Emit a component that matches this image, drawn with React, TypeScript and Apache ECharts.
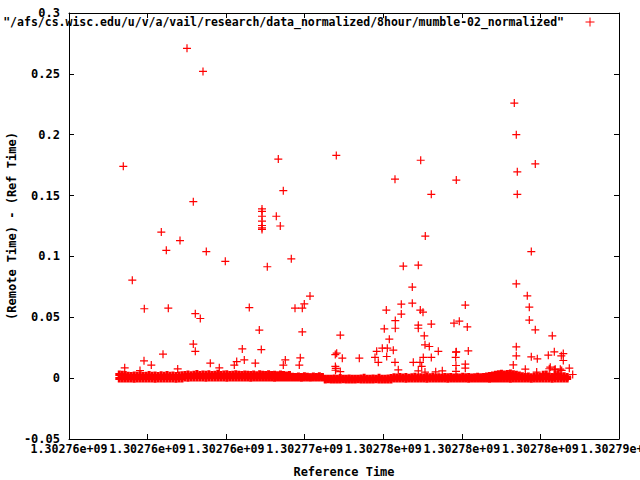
import React, { useEffect, useRef } from "react";
import * as echarts from "echarts";

const SERIES_NAME =
  '"/afs/cs.wisc.edu/u/v/a/vail/research/data_normalized/8hour/mumble-02_normalized"';
const X_NAME = "Reference Time";
const Y_NAME = "(Remote Time) - (Ref Time)";

const X_MIN = 1302755000;
const X_MAX = 1302790000;
const X_STEP = 5000;
const Y_MIN = -0.05;
const Y_MAX = 0.3;
const Y_STEP = 0.05;

// Isolated samples (reference time in s, offset in s)
const OUT_T = [
  1302758455, 1302762509, 1302763527, 1302762910, 1302768319, 1302768637, 1302772010,
  1302767282, 1302767282, 1302767282, 1302767282, 1302767282, 1302767282, 1302767282,
  1302768192, 1302768446, 1302760874, 1302762064, 1302761192, 1302763737, 1302764946,
  1302767619, 1302769146, 1302759028, 1302770336, 1302769973, 1302769382, 1302769846,
  1302759792, 1302761319, 1302763037, 1302763355, 1302766473, 1302767110, 1302769846,
  1302772264, 1302762910, 1302763037, 1302760982, 1302766028, 1302767237, 1302759773,
  1302760237, 1302758545, 1302761917, 1302763992, 1302764564, 1302765672, 1302766155,
  1302765519, 1302766855, 1302768765, 1302768637, 1302769719, 1302769655, 1302771946,
  1302772035, 1302771950, 1302771980, 1302771960, 1302772264, 1302772392, 1302773474,
  1302759518,
  1302777381, 1302775745, 1302779646, 1302778055, 1302777673, 1302776273, 1302777228,
  1302776846, 1302776146, 1302776846, 1302780219, 1302775192, 1302777355, 1302777527,
  1302776146, 1302775764, 1302778055, 1302779500, 1302779837, 1302780346, 1302775064,
  1302775764, 1302777228, 1302777228, 1302777610, 1302775383, 1302777654, 1302777928,
  1302774581, 1302774937, 1302775255, 1302775637, 1302778501, 1302779646, 1302780410,
  1302774473, 1302775217, 1302777546, 1302778055, 1302779608, 1302774683, 1302775745,
  1302776910, 1302777336, 1302777444, 1302775955, 1302777228, 1302777654, 1302778335,
  1302778755, 1302779627, 1302779627, 1302779627, 1302780219, 1302780219,
  1302783337, 1302783464, 1302784673, 1302783528, 1302783528, 1302784419, 1302783464,
  1302784164, 1302784292, 1302784292, 1302784673, 1302785755, 1302783464, 1302783464,
  1302784419, 1302784801, 1302785883, 1302785501, 1302786328, 1302786455, 1302786455,
  1302783273, 1302784037, 1302785628, 1302785946, 1302786264, 1302786837, 1302785564,
  1302785883, 1302786353, 1302784762, 1302787053,
];
const OUT_V = [
  0.174, 0.271, 0.252, 0.145, 0.18, 0.154, 0.183,
  0.139, 0.137, 0.133, 0.129, 0.1254, 0.1235, 0.1222,
  0.133, 0.125, 0.12, 0.113, 0.105, 0.104, 0.096,
  0.0915, 0.098, 0.0805, 0.0674, 0.061, 0.0575, 0.0575,
  0.057, 0.0575, 0.053, 0.049, 0.058, 0.0395, 0.038,
  0.0353, 0.028, 0.022, 0.0197, 0.024, 0.0235, 0.0142,
  0.0107, 0.0085, 0.0076, 0.0123, 0.0085, 0.0136, 0.015,
  0.0107, 0.0123, 0.015, 0.0107, 0.0167, 0.0107, 0.0194,
  0.0205, 0.0096, 0.008, 0.0065, 0.0054, 0.0164, 0.0164,
  0.0062,
  0.179, 0.1635, 0.1627, 0.151, 0.1167, 0.092, 0.0928,
  0.0748, 0.0608, 0.0616, 0.06, 0.0559, 0.0559, 0.0542,
  0.0526, 0.0473, 0.0444, 0.0452, 0.0468, 0.0421, 0.0405,
  0.041, 0.0435, 0.041, 0.0348, 0.032, 0.0274, 0.026,
  0.022, 0.0246, 0.0246, 0.023, 0.022, 0.0216, 0.0224,
  0.017, 0.0178, 0.017, 0.017, 0.017, 0.013, 0.013,
  0.013, 0.013, 0.0096, 0.0068, 0.006, 0.005, 0.0052,
  0.006, 0.0214, 0.0104, 0.0055, 0.0115, 0.0082,
  0.226, 0.2, 0.176, 0.1695, 0.151, 0.104, 0.0775,
  0.0676, 0.0583, 0.0477, 0.0397, 0.0348, 0.0257, 0.0183,
  0.0175, 0.0159, 0.0216, 0.0189, 0.0183, 0.0202, 0.0145,
  0.0109, 0.0074, 0.009, 0.0074, 0.0074, 0.0082, 0.0077,
  0.0068, 0.0063, 0.005, 0.003,
];

// Dense band of regular samples: first sample time, sampling period (s)
const BAND_START = 1302758200;
const BAND_STEP = 190;
// upper and lower envelope of the dense band, in thousandths of a second
const BAND_HIGH_MS = [
  3.0, 2.8, 2.6,
  2.0, 1.8, 2.2, 1.9, 2.4, 1.7, 2.0, 2.6, 1.9, 2.1, 1.8, 2.3, 2.0, 2.5, 1.9, 2.2, 1.8, 2.1, 2.4,
  2.6, 3.0, 2.4, 2.8, 3.4, 2.5, 2.9, 2.7, 3.2, 2.6, 2.8, 3.6, 2.5, 2.9, 3.1, 2.6, 2.8, 3.3, 2.7, 2.5, 3.0, 2.8,
  2.6, 2.9, 2.4, 3.1, 2.7, 2.5, 3.2, 2.6, 2.8, 2.4, 3.0, 2.6, 2.2, 2.5,
  1.2, 1.0, 1.4, 0.9, 1.6, 1.1, 0.8, 1.3, 1.0, 1.5, 0.9,
  -0.5, -0.4, -0.6, -0.3, -0.5, 0.2, -0.4, -0.5, -0.2, -0.6, -0.4, -0.5, -0.3, 0.4, -0.5, -0.4, -0.2, -0.5, 0.3, -0.4, -0.6, -0.3, 0.2,
  0.8, 0.5, 1.0, 0.6, 0.9, 0.4, 0.7, 1.1, 0.6, 0.8, 0.5, 0.9, 0.7, 1.2, 0.6, 0.8, 0.4, 0.9, 0.7, 1.0, 0.5, 0.8, 0.6, 1.1, 0.7, 0.9, 0.5, 0.8, 1.2, 0.7, 0.9, 1.4, 1.8, 2.2,
  2.8, 3.2, 3.6, 3.0, 3.4, 3.8, 3.1, 2.7, 2.2, 1.6,
  1.0, 1.3, 0.8, 1.1, 1.6, 1.2, 2.8, 3.0, 1.4, 1.0, 2.6, 3.2, 1.2, 1.5, 0.9,
];
const BAND_LOW_MS = [
  -0.3, -0.3, -0.2, -0.3, -0.3, -0.4, -0.3, -0.3, -0.2, -0.3, -0.3, -0.3, -0.4, -0.3, -0.3, -0.2, -0.3, -0.3, -0.3, -0.4, -0.3, -0.3,
  0.5, 0.4, 0.5, 0.5, 0.6, 0.5, 0.5, 0.4, 0.5, 0.5,
  0.5, 0.6, 0.5, 0.5, 0.4, 0.5, 0.5, 0.5, 0.5, 0.6,
  0.5, 0.5, 0.4, 0.5, 0.5, 0.5, 0.5, 0.6, 0.5, 0.5,
  0.4, 0.5, 0.5, 0.5, 0.5, 0.5, 0.6, 0.5, 0.5, 0.4,
  0.5, 0.5, 0.5, 0.5, 0.6, 0.5, 0.5,
  -1.1, -1.0, -1.1, -1.2, -1.1, -1.1, -1.0, -1.1, -1.1, -1.2,
  -1.1, -1.0, -1.1, -1.1, -1.1, -1.2, -1.1, -1.0, -1.1, -1.1,
  -1.1, -1.2, -1.1,
  -0.3, -0.3, -0.2, -0.3, -0.4, -0.3, -0.3, -0.2, -0.3, -0.3,
  -0.3, -0.4, -0.3, -0.3, -0.2, -0.3, -0.3, -0.3, -0.4, -0.3,
  -0.3, -0.2, -0.3, -0.3, -0.3, -0.4, -0.3, -0.3, -0.2, -0.3,
  -0.3, -0.3, -0.4, -0.3, -0.3, -0.2, -0.3, -0.3, -0.3, -0.4,
  -0.3, -0.3, -0.2, -0.3, -0.3, -0.3, -0.4, -0.3, -0.3, -0.2,
  -0.3, -0.3, -0.3, -0.4, -0.3, -0.3, -0.2, -0.3, -0.3,
];

const PLUS = "path://M4,0L4,8M0,4L8,4";

// %g-like formatting with 6 significant digits, ties rounded to even
function gFormat(v: number): string {
  if (v === 0) return "0";
  const e = Math.floor(Math.log10(Math.abs(v)));
  const scaled = v / Math.pow(10, e - 5);
  const f = Math.floor(scaled);
  let r = Math.round(scaled);
  if (Math.abs(scaled - f - 0.5) < 1e-6) r = f % 2 === 0 ? f : f + 1;
  const m = (r / 1e5).toFixed(5).replace(/0+$/, "").replace(/\.$/, "");
  const sign = e < 0 ? "-" : "+";
  return m + "e" + sign + String(Math.abs(e)).padStart(2, "0");
}

const FONT = "DejaVu Sans Mono";

export default function App() {
  const ref = useRef<HTMLDivElement>(null);
  useEffect(() => {
    if (!ref.current) return;
    const chart = echarts.init(ref.current, undefined, { renderer: "svg" });
    const band: number[][] = [];
    BAND_HIGH_MS.forEach((v, i) => band.push([BAND_START + i * BAND_STEP, v / 1000]));
    BAND_LOW_MS.forEach((v, i) => band.push([BAND_START + i * BAND_STEP, v / 1000]));
    const outliers = OUT_T.map((t, i) => [t, OUT_V[i]]);

    const axisText = { fontFamily: FONT, fontSize: 12, fontWeight: "bold" as const, color: "#000" };
    const lineStyle = { color: "#000", width: 1 };
    const tick = { show: true, inside: true, length: 5, lineStyle };

    chart.setOption({
      animation: false,
      backgroundColor: "#fff",
      grid: {
        left: 69,
        right: 21,
        top: 13,
        bottom: 41,
        containLabel: false,
        outerBoundsMode: "none",
      },
      legend: {
        data: [{ name: SERIES_NAME, icon: PLUS }],
        align: "right",
        right: 45,
        top: 16,
        padding: 0,
        itemWidth: 42,
        itemHeight: 9,
        selectedMode: false,
        itemStyle: { borderWidth: 1, borderColor: "#ff0000" },
        textStyle: { ...axisText, fontSize: 11.5 },
      },
      xAxis: [
        {
          type: "value",
          position: "bottom",
          min: X_MIN,
          max: X_MAX,
          interval: X_STEP,
          name: X_NAME,
          nameLocation: "middle",
          nameGap: 27,
          nameMoveOverlap: false,
          nameTextStyle: axisText,
          axisLine: { show: true, onZero: false, lineStyle },
          axisTick: tick,
          axisLabel: {
            ...axisText,
            fontSize: 11.6,
            margin: 4,
            formatter: gFormat,
            showMinLabel: true,
            showMaxLabel: true,
            hideOverlap: false,
          },
          splitLine: { show: false },
        },
        {
          type: "value",
          position: "top",
          min: X_MIN,
          max: X_MAX,
          interval: X_STEP,
          axisLine: { show: true, onZero: false, lineStyle },
          axisTick: tick,
          axisLabel: { show: false },
          splitLine: { show: false },
        },
      ],
      yAxis: [
        {
          type: "value",
          position: "left",
          min: Y_MIN,
          max: Y_MAX,
          interval: Y_STEP,
          name: Y_NAME,
          nameLocation: "middle",
          nameRotate: 90,
          nameGap: 51,
          nameMoveOverlap: false,
          nameTextStyle: axisText,
          axisLine: { show: true, onZero: false, lineStyle },
          axisTick: tick,
          axisLabel: { ...axisText, margin: 9, showMinLabel: true, showMaxLabel: true, hideOverlap: false },
          splitLine: { show: false },
        },
        {
          type: "value",
          position: "right",
          min: Y_MIN,
          max: Y_MAX,
          interval: Y_STEP,
          axisLine: { show: true, onZero: false, lineStyle },
          axisTick: tick,
          axisLabel: { show: false },
          splitLine: { show: false },
        },
      ],
      series: [
        {
          type: "scatter",
          name: "band",
          xAxisIndex: 0,
          yAxisIndex: 0,
          data: band,
          symbol: PLUS,
          symbolSize: 8,
          silent: true,
          itemStyle: { color: "#ff0000", borderColor: "#ff0000", borderWidth: 3, opacity: 1 },
        },
        {
          type: "scatter",
          name: SERIES_NAME,
          xAxisIndex: 0,
          yAxisIndex: 0,
          data: outliers,
          symbol: PLUS,
          symbolSize: 8,
          symbolKeepAspect: true,
          itemStyle: { color: "#ff0000", borderColor: "#ff0000", borderWidth: 1.2, opacity: 1 },
        },
      ],
    });
    return () => chart.dispose();
  }, []);
  return (
    <div
      ref={ref}
      style={{ position: "fixed", left: 0, top: 0, width: 640, height: 480, background: "#fff" }}
    />
  );
}
